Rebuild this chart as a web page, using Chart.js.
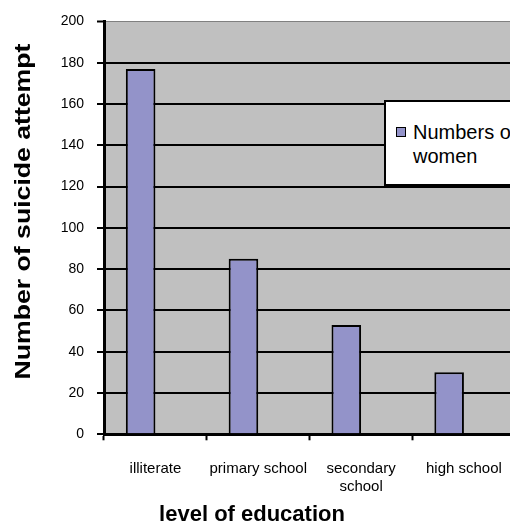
<!DOCTYPE html>
<html>
<head>
<meta charset="utf-8">
<script src="https://cdn.jsdelivr.net/npm/chart.js@4.4.0/dist/chart.umd.min.js"></script>
<style>
  html, body { margin: 0; padding: 0; overflow: hidden; background: #fff; }
  #wrap { position: relative; width: 522px; height: 522px; }
  #legend {
    position: absolute; left: 384px; top: 100px; width: 130px; height: 82px;
    background: #fff; border: 2px solid #000; font-family: 'Liberation Sans', Arial, sans-serif;
  }
  #legend .mark {
    position: absolute; left: 10px; top: 25px; width: 10px; height: 10px;
    box-sizing: border-box; border: 1px solid #000;
  }
  #legend .txt {
    position: absolute; left: 27px; top: 18px; width: 108px;
    font-size: 20px; line-height: 24px; color: #000;
  }
</style>
</head>
<body>
<div id="wrap">
  <canvas id="c" width="522" height="522"></canvas>
  <div id="legend"></div>
</div>
<script>
// Education levels and number of suicide attempts among women
const categories = ['illiterate', 'primary school', ['secondary', 'school'], 'high school'];
const women = [177, 85, 53, 30];
// empty second slot in each group (keeps the bars left of the category centre)
const emptySlot = [null, null, null, null];
const yTicks = [0, 20, 40, 60, 80, 100, 120, 140, 160, 180, 200];

const seriesLabel = 'Numbers of women';
const xTitle = 'level of education';
const yTitle = 'Number of suicide attempt';

const barFill = '#9393C9';
const FONT = "'Liberation Sans', Arial, sans-serif";

const plotBackground = {
  id: 'plotBackground',
  beforeDraw(chart) {
    const { ctx, chartArea: a } = chart;
    ctx.save();
    ctx.fillStyle = '#C0C0C0';
    ctx.fillRect(a.left, a.top, a.right - a.left, a.bottom - a.top);
    ctx.restore();
  }
};

const axisTitles = {
  id: 'axisTitles',
  afterDraw(chart) {
    const { ctx } = chart;
    ctx.save();
    ctx.fillStyle = '#000';
    ctx.font = 'bold 22px ' + FONT;
    ctx.textAlign = 'center';
    ctx.textBaseline = 'alphabetic';
    ctx.fillText(xTitle, 252, 521);
    ctx.translate(30, 211.5);
    ctx.rotate(-Math.PI / 2);
    ctx.scale(1.21, 1);
    ctx.fillText(yTitle, 0, 0);
    ctx.restore();
  }
};

const chart = new Chart(document.getElementById('c'), {
  type: 'bar',
  data: {
    labels: categories,
    datasets: [
      {
        label: seriesLabel,
        data: women,
        backgroundColor: barFill,
        borderColor: '#000',
        borderWidth: 2,
        barPercentage: 1.0,
        categoryPercentage: 0.5755
      },
      {
        label: '',
        data: emptySlot,
        barPercentage: 1.0,
        categoryPercentage: 0.5755
      }
    ]
  },
  options: {
    responsive: false,
    animation: false,
    layout: { padding: { top: 18.5, right: 1, left: 0, bottom: 0 } },
    plugins: {
      legend: { display: false },
      tooltip: { enabled: false }
    },
    scales: {
      x: {
        offset: true,
        afterFit(scale) { scale.height = 87.7; },
        grid: {
          offset: true,
          drawOnChartArea: false,
          drawTicks: true,
          tickLength: 6,
          tickColor: '#000',
          tickWidth: 2
        },
        border: { display: true, color: '#000', width: 3 },
        ticks: {
          color: '#000',
          font: { family: FONT, size: 15 },
          padding: 20,
          maxRotation: 0,
          autoSkip: false
        }
      },
      y: {
        min: 0,
        max: 200,
        afterFit(scale) { scale.width = 104; },
        afterBuildTicks(scale) { scale.ticks = yTicks.map(v => ({ value: v })); },
        grid: {
          color: c => (c.tick && c.tick.value === 200 ? '#808080' : '#000'),
          lineWidth: c => (c.tick && c.tick.value === 200 ? 1 : 2),
          tickLength: 7,
          tickColor: '#000',
          tickWidth: 2
        },
        border: { display: true, color: '#000', width: 3 },
        ticks: {
          color: '#000',
          font: { family: FONT, size: 14 },
          padding: 13
        }
      }
    }
  },
  plugins: [plotBackground, axisTitles]
});

// legend box built from the first dataset
const ds = chart.data.datasets[0];
const legend = document.getElementById('legend');
const mark = document.createElement('span');
mark.className = 'mark';
mark.style.background = ds.backgroundColor;
const txt = document.createElement('div');
txt.className = 'txt';
txt.textContent = ds.label;
legend.appendChild(mark);
legend.appendChild(txt);
</script>
</body>
</html>
